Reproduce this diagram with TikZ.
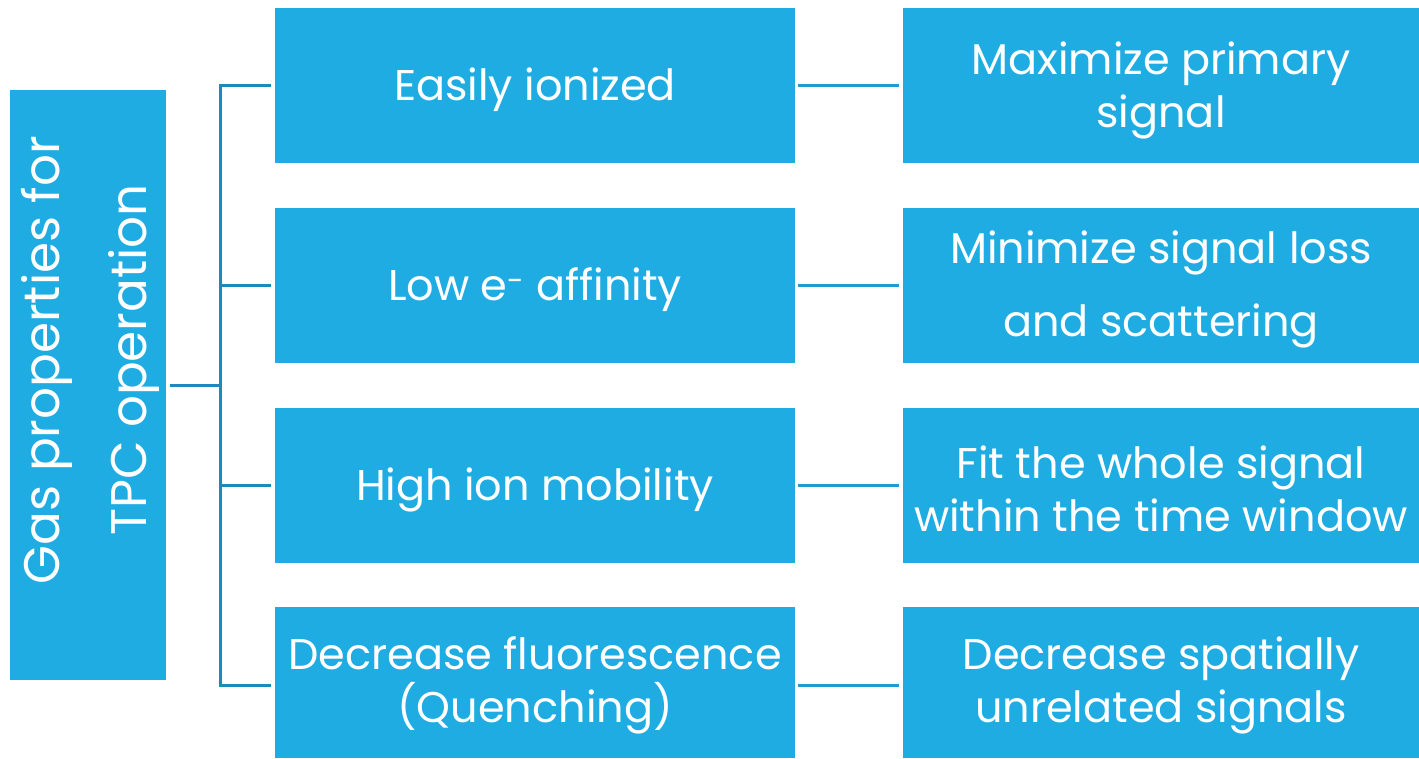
\documentclass[tikz,border=0pt]{standalone}
\usepackage{fontspec}
\setmainfont{Poppins}
\definecolor{boxblue}{HTML}{1FACE2}
\definecolor{spineblue}{HTML}{1A8BBA}
\definecolor{linkblue}{HTML}{1E9DD2}
\begin{document}
\begin{tikzpicture}[x=1pt,y=-1pt,
  card/.style={fill=boxblue, draw=none, inner sep=0pt},
  midcard/.style={card, minimum width=520pt},
  rightcard/.style={card, minimum width=516pt},
  cardtext/.style={text=white, align=center, inner sep=0pt,
    font=\fontsize{43}{53}\selectfont},
  spine/.style={draw=spineblue, line width=3pt},
  link/.style={draw=linkblue, line width=3pt, shorten <=3pt, shorten >=4pt}]
\useasboundingbox (0,0) rectangle (1419,759);
% root box with rotated title
\node[card, minimum width=156pt, minimum height=590pt] (root) at (88,385) {};
\node[cardtext, rotate=90, font=\fontsize{50}{87}\selectfont] (title) at (90,360)
  {Gas properties for\\TPC operation};
% property boxes
\node[midcard, minimum height=155pt] (p1) at (535,85.5) {};
\node[midcard, minimum height=155pt] (p2) at (535,285.5) {};
\node[midcard, minimum height=155pt] (p3) at (535,485.5) {};
\node[midcard, minimum height=151pt] (p4) at (535,682.5) {};
\node[cardtext] (p1t) at ([yshift=-4pt]p1.center) {Easily ionized};
\node[cardtext] (p2t) at ([yshift=-4pt]p2.center) {Low e\textsuperscript{-} affinity};
\node[cardtext] (p3t) at ([yshift=-4pt]p3.center) {High ion mobility};
\node[cardtext] (p4t) at ([yshift=-3pt]p4.center) {Decrease fluorescence\\(Quenching)};
% purpose boxes
\node[rightcard, minimum height=155pt] (q1) at (1161,85.5) {};
\node[rightcard, minimum height=155pt] (q2) at (1161,285.5) {};
\node[rightcard, minimum height=155pt] (q3) at (1161,485.5) {};
\node[rightcard, minimum height=151pt] (q4) at (1161,682.5) {};
\node[cardtext] (q1t) at ([yshift=-5pt]q1.center) {Maximize primary\\signal};
\node[cardtext, font=\fontsize{43}{73}\selectfont] (q2t) at ([yshift=-4pt]q2.center)
  {Minimize signal loss\\and scattering};
\node[cardtext] (q3t) at ([yshift=-3pt]q3.center) {Fit the whole signal\\within the time window};
\node[cardtext] (q4t) at ([yshift=-3pt]q4.center) {Decrease spatially\\unrelated signals};
% tree connectors
\coordinate (fork) at (220,385);
\draw[spine, shorten <=4pt] (root.east) -- (fork);
\draw[spine, shorten >=4pt] (fork) |- (p1.west);
\draw[spine, shorten >=4pt] (fork) |- (p2.west);
\draw[spine, shorten >=4pt] (fork) |- (p3.west);
\draw[spine, shorten >=4pt] (fork) |- ([yshift=-2.5pt]p4.west);
\draw[link] (p1.east) -- (q1.west);
\draw[link] (p2.east) -- (q2.west);
\draw[link] (p3.east) -- (q3.west);
\draw[link] ([yshift=-2.5pt]p4.east) -- ([yshift=-2.5pt]q4.west);
\end{tikzpicture}
\end{document}
